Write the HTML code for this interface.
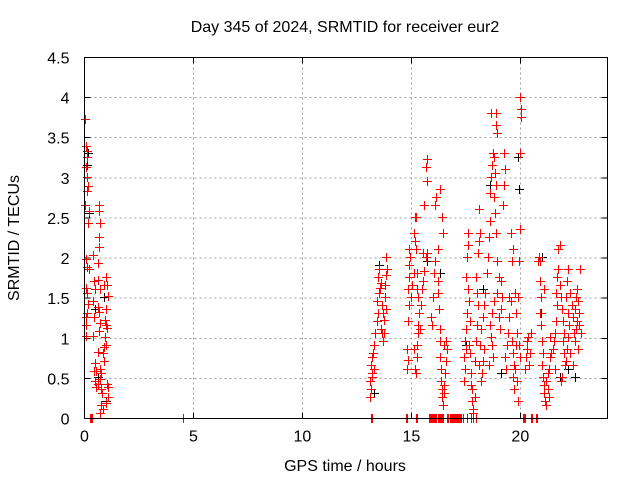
<!DOCTYPE html>
<html><head><meta charset="utf-8"><style>
html,body{margin:0;padding:0;background:#fff;}
svg{display:block;font-family:"Liberation Sans",sans-serif;}
</style></head><body>
<svg id="chart" width="640" height="480" viewBox="0 0 640 480" xmlns="http://www.w3.org/2000/svg" shape-rendering="crispEdges">
<text x="345" y="32" font-size="16" text-anchor="middle" fill="#000">Day 345 of 2024, SRMTID for receiver eur2</text>
<text x="0" y="0" font-size="16" text-anchor="middle" transform="translate(19,238) rotate(-90)">SRMTID / TECUs</text>
<text x="345" y="471" font-size="16" text-anchor="middle">GPS time / hours</text>
<g id="grid"></g>
<g id="ticks"></g>
<g id="blk" fill="#000000"></g>
<g id="red" fill="#ff0000"></g>
<rect x="84.5" y="57.5" width="523" height="361" fill="none" stroke="#000" stroke-width="1"/>
</svg>
<script>
const xTicks=[0,5,10,15,20];
const yTicks=[0,0.5,1,1.5,2,2.5,3,3.5,4,4.5];
const yTickLabels=["0","0.5","1","1.5","2","2.5","3","3.5","4","4.5"];
const redX=[0.02,0.05,0.1,0.12,0.08,0.1,0.15,0.12,0.03,0.2,0.15,0.05,0.1,0.2,0.05,0.12,0.15,0.05,0.12,0.05,0.05,0.4,0.45,0.5,0.4,0.45,0.4,0.65,0.65,0.7,0.65,0.65,0.62,0.6,0.7,0.6,0.65,0.7,0.65,0.6,0.5,0.45,0.55,0.5,0.55,0.6,0.7,0.75,0.7,0.75,0.8,0.75,0.85,0.7,0.9,0.85,0.9,1.0,0.95,1.0,0.95,1.0,0.9,1.0,1.05,1.1,1.05,1.1,1.05,1.1,1.0,
13.1,13.15,13.1,13.2,13.15,13.2,13.25,13.3,13.2,13.3,13.35,13.4,13.45,13.4,13.5,13.55,13.45,13.5,13.6,13.65,13.7,13.75,13.6,13.65,13.7,13.75,13.8,13.8,13.85,13.85,13.9,13.85,
14.8,14.85,14.8,14.85,14.9,14.85,14.9,14.9,14.95,14.9,15.0,15.05,15.1,15.1,15.15,15.2,15.15,15.2,15.25,15.25,15.3,15.35,15.3,15.4,15.45,15.5,15.55,15.6,15.65,15.7,15.55,15.6,15.65,15.7,15.7,15.25,15.3,15.25,15.15,15.1,15.2,
15.9,15.95,16.0,16.05,16.1,16.1,16.15,16.2,16.2,16.25,16.3,16.3,16.35,16.35,16.4,16.4,16.45,16.5,16.5,16.55,16.6,16.6,16.65,16.5,16.3,16.4,16.45,16.3,16.2,
17.4,17.45,17.4,17.5,17.45,17.5,17.55,17.6,17.5,17.55,17.6,17.6,17.65,17.7,17.65,17.7,17.75,17.8,17.8,17.85,17.85,17.9,17.75,17.9,17.95,18.0,18.05,18.0,17.95,18.05,18.1,18.15,18.1,18.1,18.15,18.2,
18.2,18.25,18.3,18.35,18.3,18.35,18.4,18.45,18.5,18.55,18.6,18.6,18.65,18.7,18.75,18.65,18.9,18.9,18.95,18.8,18.85,18.9,18.8,18.85,18.9,18.95,19.0,18.95,18.8,18.7,18.6,18.65,18.7,18.75,18.55,19.0,19.05,19.1,19.15,19.1,19.2,19.25,19.25,19.3,
19.3,19.35,19.4,19.45,19.5,19.55,19.5,19.6,19.65,19.7,19.65,19.7,19.75,19.8,19.85,19.8,19.75,19.6,19.65,19.55,19.9,19.95,20.0,20.0,20.05,20.05,20.0,19.95,20.0,19.9,19.85,
20.2,20.25,20.3,20.3,20.35,20.4,20.45,20.5,
20.8,20.85,20.9,20.95,20.9,20.95,21.0,21.05,21.0,21.05,21.1,21.1,21.15,21.2,21.2,21.25,21.3,21.25,21.3,21.35,21.4,21.35,21.1,20.9,
21.5,21.55,21.6,21.65,21.7,21.65,21.7,21.75,21.8,21.75,21.8,21.85,21.9,21.95,22.0,21.95,22.0,22.05,21.9,22.1,22.15,22.2,22.25,22.2,22.1,22.15,22.2,22.3,22.35,22.4,22.45,22.5,22.55,22.6,22.5,22.55,22.6,22.65,22.7,22.75,22.7,22.8,22.65,22.4,22.3,21.6,21.85,
0.25,0.3,0.35,4.5,13.15,13.2,14.75,14.8,15.2,15.25,15.8,15.85,15.9,15.95,16.0,16.05,16.1,16.15,16.2,16.25,16.3,16.35,16.4,16.45,16.65,16.7,16.75,16.8,16.85,16.9,16.95,17.0,17.05,17.1,17.15,17.2,17.25,17.3,17.35,17.55,17.75,17.85,17.95,20.1,20.15,20.2,20.5,20.55,20.7,20.75];
const redY=[3.72,3.38,3.32,3.25,3.12,3.0,2.88,2.82,2.65,2.58,2.42,1.98,1.88,1.85,1.62,1.55,1.42,1.25,1.3,1.15,1.02,2.02,1.7,1.6,1.45,1.25,1.02,2.65,2.58,2.42,2.25,2.12,1.92,1.72,1.6,1.38,1.32,1.18,1.08,0.82,0.68,0.58,0.58,0.45,0.38,0.42,0.6,0.55,0.48,0.35,0.3,0.15,0.1,0.05,0.7,0.8,0.88,0.9,1.0,1.15,1.22,1.35,1.65,1.75,1.65,1.52,1.12,0.38,0.42,0.25,0.18,
0.25,0.35,0.45,0.55,0.65,0.75,0.8,0.9,0.5,0.6,1.05,1.2,1.3,1.45,1.55,1.62,1.75,1.85,1.68,1.4,1.3,1.22,1.1,1.05,0.95,1.05,1.5,1.65,1.78,2.0,1.85,1.35,
0.6,0.72,0.85,1.2,1.4,1.6,1.75,1.9,2.0,2.1,1.5,1.65,1.8,2.3,2.5,2.5,2.2,2.1,1.8,1.6,1.5,1.3,1.15,1.1,1.4,1.6,1.7,1.82,2.0,2.05,2.05,2.65,3.12,3.22,2.95,0.9,1.05,0.75,0.6,0.85,0.55,
1.25,1.15,1.5,1.8,1.95,2.65,2.75,2.1,1.7,1.35,0.95,0.75,0.6,0.45,0.35,0.25,0.15,0.3,0.4,0.55,0.7,0.95,0.85,0.9,2.85,2.5,2.3,1.1,1.55,
0.45,0.6,0.75,0.85,0.95,1.1,1.3,1.6,1.75,2.0,2.15,2.3,1.45,1.2,0.9,0.8,0.55,0.35,0.2,0.1,0.05,0.25,0.4,0.7,0.95,1.15,1.4,1.55,1.75,2.05,2.2,2.3,2.6,0.65,0.9,1.1,
0.45,0.55,0.7,0.85,1.25,1.4,1.55,1.8,2.0,2.25,2.45,2.8,3.0,3.15,3.3,3.8,3.8,3.65,3.55,3.25,3.05,2.9,2.75,2.55,2.3,1.95,1.75,1.55,1.45,1.3,1.15,1.0,0.9,0.75,0.65,1.25,1.1,1.35,1.5,1.7,2.65,2.9,3.3,3.1,
0.75,0.6,0.9,1.05,1.25,1.45,1.5,0.95,0.8,0.65,0.5,0.35,0.6,0.9,1.05,1.3,1.55,1.95,2.1,2.3,1.5,1.95,2.35,3.3,3.75,3.85,4.0,0.9,0.75,0.2,0.45,
0.6,0.75,0.85,0.95,1.0,0.65,0.8,1.05,
1.95,2.0,1.95,1.5,1.3,1.15,0.95,0.8,0.65,0.5,0.4,0.3,0.2,0.15,0.45,0.35,0.25,0.55,0.6,0.75,0.8,1.0,1.6,1.7,
0.85,0.95,1.05,1.2,1.4,1.55,1.75,2.1,2.15,1.85,1.65,1.5,1.35,1.2,1.05,0.95,0.8,0.65,0.5,0.7,0.85,1.0,1.15,1.3,1.5,1.7,1.85,1.55,1.4,1.25,1.05,0.95,1.1,1.2,1.35,1.5,1.6,1.45,1.3,1.85,1.15,1.05,0.85,0.65,0.8,0.6,0.45,
0,0,0,0,0,0,0,0,0,0,0,0,0,0,0,0,0,0,0,0,0,0,0,0,0,0,0,0,0,0,0,0,0,0,0,0,0,0,0,0,0,0,0,0,0,0,0,0,0,0];
const blackX=[0.1,0.15,0.2,0.5,0.6,0.9,13.5,15.7,16.3,18.6,19.9,19.95,21.0,21.8,22.5,20.95,17.5,19.1,13.3,1.0,22.2,18.3];
const blackY=[3.15,3.3,2.55,1.35,0.5,1.5,1.9,1.95,1.8,2.9,3.25,2.85,2.0,0.5,0.5,1.3,0.9,0.55,0.3,0.2,0.6,1.6];

const L=84.5,R=607.5,T=57.5,B=418.5;
const sx=v=>L+(v/24)*(R-L);
const sy=v=>B-(v/4.5)*(B-T);
const NS="http://www.w3.org/2000/svg";
function mk(t,a,p){const e=document.createElementNS(NS,t);for(const k in a)e.setAttribute(k,a[k]);p.appendChild(e);return e;}
const grid=document.getElementById('grid'),ticks=document.getElementById('ticks');
xTicks.forEach(v=>{
  const x=sx(v);
  if(v>0){const g=mk('line',{x1:x,x2:x,y1:T,y2:B,stroke:'#a0a0a0','stroke-dasharray':'2,3'},grid);
  
  }
  const t=mk('line',{x1:x,x2:x,y1:B,y2:B-6,stroke:'#000'},ticks);
  
  
  const t2=mk('line',{x1:x,x2:x,y1:T,y2:T+6,stroke:'#000'},ticks);
  
  
  const lb=mk('text',{x:x,y:B+23,'font-size':16,'text-anchor':'middle'},ticks);
  lb.textContent=String(v);
  
  
});
yTicks.forEach((v,i)=>{
  const y=sy(v);
  if(v>0&&v<4.5){const g=mk('line',{x1:L,x2:R,y1:y,y2:y,stroke:'#a0a0a0','stroke-dasharray':'2,3'},grid);
  
  }
  const t=mk('line',{x1:L,x2:L+6,y1:y,y2:y,stroke:'#000'},ticks);
  
  
  const t2=mk('line',{x1:R,x2:R-6,y1:y,y2:y,stroke:'#000'},ticks);
  
  
  const lb=mk('text',{x:L-15,y:y+6,'font-size':16,'text-anchor':'end'},ticks);
  lb.textContent=yTickLabels[i];
  
  
});
function plot(xs,ys,gid,name,color){
  const g=document.getElementById(gid);
  xs.forEach((xv,i)=>{
    const x=Math.round(sx(xv)),y=Math.round(sy(ys[i]))-1;
    const h=mk('rect',{x:x-4,y:y,width:9,height:1,fill:color},g);
    
    
    const v=mk('rect',{x:x,y:y-4,width:1,height:9,fill:color},g);
    
    
  });
}
plot(blackX,blackY,'blk','black-point','#000000');
plot(redX,redY,'red','red-point','#ff0000');
</script>
</body></html>
